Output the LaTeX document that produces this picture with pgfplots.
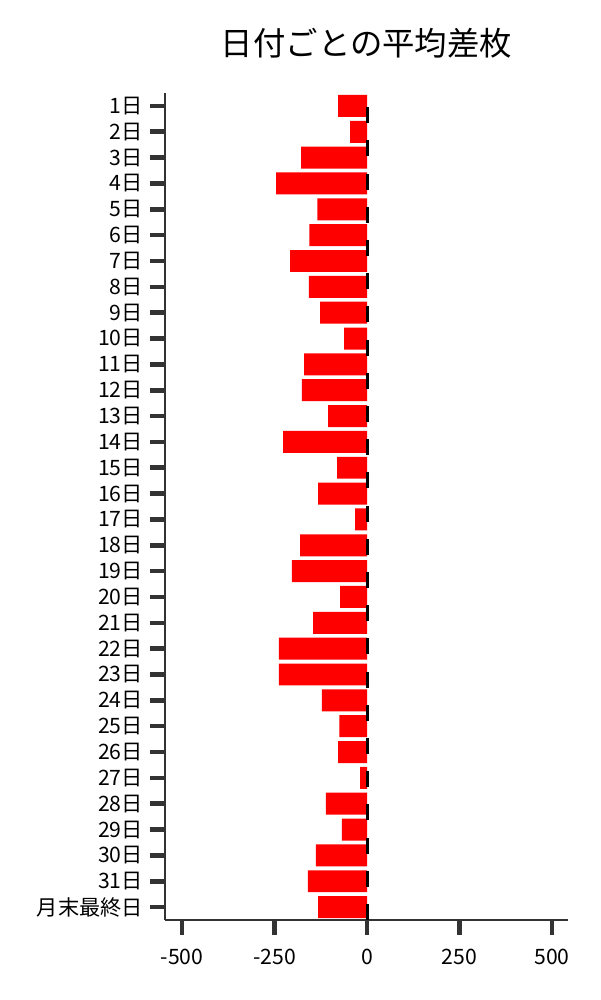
\documentclass[border=0pt]{standalone}
\usepackage{fontspec}
\setmainfont{Noto Sans CJK JP}
\usepackage{pgfplots}
\pgfplotsset{compat=1.18}
\definecolor{spine}{HTML}{333333}

\begin{document}
\begin{tikzpicture}
\useasboundingbox (-82.5pt,-40pt) rectangle (217.5pt,460pt);
\begin{axis}[
    scale only axis,
    width=201.5pt, height=413.5pt,
    at={(0,0)}, anchor=south west,
    xbar, bar width=0.85,
    xmin=-546, xmax=543,
    ymin=-0.5, ymax=31.5,
    y dir=reverse,
    axis x line=bottom, axis y line=left,
    axis line style={-, spine, line width=0.6pt},
    xtick={-500,-250,0,250,500},
    ytick={0,...,31},
    yticklabels={1日,2日,3日,4日,5日,6日,7日,8日,9日,10日,11日,12日,13日,14日,15日,16日,17日,18日,19日,20日,21日,22日,23日,24日,25日,26日,27日,28日,29日,30日,31日,月末最終日},
    tick align=outside,
    major tick length=7.5pt,
    major tick style={spine, line width=2.3pt},
    tick label style={font=\fontsize{10.6}{12}\selectfont},
    xticklabel style={yshift=-3.5pt},
    /pgf/number format/assume math mode=true,
    title={日付ごとの平均差枚},
    title style={at={(0.5,1)}, anchor=center, yshift=19pt,
                 font=\fontsize{16.2}{19}\selectfont},
]
\addplot[fill=red, draw=none] coordinates {
    (-78,0) (-46,1) (-178,2) (-246,3) (-134,4) (-156,5) (-208,6) (-157,7)
    (-127,8) (-62,9) (-170,10) (-176,11) (-105,12) (-227,13) (-81,14)
    (-132,15) (-32,16) (-181,17) (-203,18) (-73,19) (-146,20) (-238,21)
    (-238,22) (-122,23) (-75,24) (-78,25) (-19,26) (-111,27) (-68,28)
    (-138,29) (-160,30) (-132,31)
};
% dashed zero line
\addplot[xbar=0pt, sharp plot, black, line width=1.5pt,
         dash pattern=on 8pt off 8.6pt, forget plot] coordinates {
    (0,31.5) (0,-0.5)
};
\end{axis}
\end{tikzpicture}
\end{document}
